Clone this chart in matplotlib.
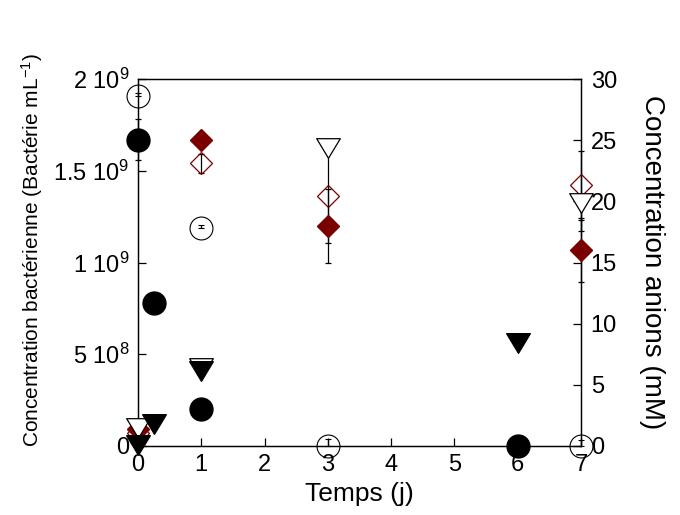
import matplotlib
matplotlib.use('Agg')
from matplotlib import pyplot as plt
from matplotlib.path import Path
import numpy as np

plt.rcParams['font.family'] = ['Liberation Sans', 'DejaVu Sans']
plt.rcParams['mathtext.fontset'] = 'custom'
plt.rcParams['mathtext.rm'] = 'Liberation Sans'
plt.rcParams['mathtext.it'] = 'Liberation Sans'
plt.rcParams['mathtext.bf'] = 'Liberation Sans:bold'

# bacteria (left axis, Bacterie/mL)
days_bact_full = [0, 0.25, 1, 6]
bact_full = [1.67e9, 7.8e8, 2.0e8, 0]
bact_full_err = [1.1e8, 0, 0, 0]

days_bact_open = [0, 1, 3, 7]
bact_open = [1.91e9, 1.19e9, 0, 0]
bact_open_err = [1.5e7, 1.6e7, 4e7, 3e7]

# anions (right axis, mM)
days_tri_full = [0, 0.25, 1, 6]
tri_full = [0.1, 1.8, 6.1, 8.4]

days_tri_open = [0, 1, 3, 7]
tri_open = [1.5, 6.4, 24.4, 19.9]
tri_open_err = [0, 0, 0, 2.3]

days_dia_full = [0, 1, 3, 7]
dia_full = [1.4, 25.0, 18.0, 16.0]
dia_full_err = [0, 0, 3.0, 2.6]

days_dia_open = [0, 1, 3, 7]
dia_open = [1.1, 23.1, 20.4, 21.3]
dia_open_err = [0, 0.75, 3.8, 2.8]

left_ticks = [0, 5e8, 1e9, 1.5e9, 2e9]
left_ticklabels = ['0', '5 10$^8$', '1 10$^9$', '1.5 10$^9$', '2 10$^9$']
right_ticks = [0, 5, 10, 15, 20, 25, 30]
x_ticks = [0, 1, 2, 3, 4, 5, 6, 7]

darkred = '#7a0000'
# slightly flattened downward triangle
tri_down = Path([(-1, 0.83), (1, 0.83), (0, -0.83), (-1, 0.83)], closed=True)

fig = plt.figure(figsize=(6.8, 5.15), dpi=100)
ax = fig.add_axes([138/680., 69/515., 443/680., 367/515.])
ax2 = ax.twinx()

err_kw = dict(ecolor='black', elinewidth=0.9, capsize=2.2, capthick=0.9)

ax.errorbar(days_bact_open, bact_open, yerr=[[0]*4, bact_open_err], fmt='o', ms=16.5,
            mfc='none', mec='black', mew=0.8, clip_on=False, zorder=4, **err_kw)
ax.errorbar(days_bact_full, bact_full, yerr=bact_full_err, fmt='o', ms=16.5,
            mfc='black', mec='black', clip_on=False, zorder=5, **err_kw)

ax2.errorbar(days_dia_open, dia_open, yerr=dia_open_err, fmt='D', ms=11.5,
             mfc='none', mec=darkred, mew=0.9, clip_on=False, zorder=3, **err_kw)
ax2.errorbar(days_dia_full, dia_full, yerr=dia_full_err, fmt='D', ms=11.5,
             mfc=darkred, mec=darkred, clip_on=False, zorder=4, **err_kw)
ax2.errorbar(days_tri_open, tri_open, yerr=[tri_open_err, [0]*4], fmt='none',
             clip_on=False, zorder=4.5, **err_kw)
ax2.plot(days_tri_open, tri_open, ls='none', marker=tri_down, ms=17,
         mfc='white', mec='black', mew=0.9, clip_on=False, zorder=5)
ax2.plot(days_tri_full, tri_full, ls='none', marker=tri_down, ms=17,
         mfc='black', mec='black', clip_on=False, zorder=6)

ax.set_xlim(0, 7)
ax.set_ylim(0, 2e9)
ax2.set_ylim(0, 30)
ax.set_xticks(x_ticks)
ax.set_yticks(left_ticks)
ax.set_yticklabels(left_ticklabels)
ax2.set_yticks(right_ticks)

ax.tick_params(direction='in', length=6, width=0.9, labelsize=17, pad=6, top=False, right=False)
ax2.tick_params(direction='in', length=6, width=0.9, labelsize=17, pad=7)
for a in (ax, ax2):
    for s in a.spines.values():
        s.set_linewidth(0.9)

ax.set_xlabel('Temps (j)', fontsize=19, labelpad=4)
fig.text(32/680., 1 - 250/515., u'Concentration bact\u00e9rienne (Bact\u00e9rie mL$^{-1}$)',
         rotation=90, ha='center', va='center', fontsize=15)
fig.text(652/680., 1 - 262/515., 'Concentration anions (mM)',
         rotation=-90, ha='center', va='center', fontsize=20)

fig.savefig('out.png', dpi=100)
